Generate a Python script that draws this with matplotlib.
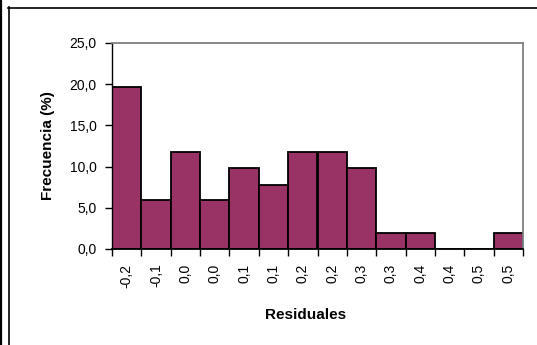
import numpy as np
import matplotlib.pyplot as plt
from matplotlib.lines import Line2D

plt.rcParams['font.family'] = ['Liberation Sans', 'DejaVu Sans']

# Residuales (etiquetas de clase) y frecuencias relativas (%)
etiquetas = ['-0,2', '-0,1', '0,0', '0,0', '0,1', '0,1', '0,2',
             '0,2', '0,3', '0,3', '0,4', '0,4', '0,5', '0,5']
frecuencia = [19.6, 5.9, 11.8, 5.9, 9.8, 7.8, 11.8,
              11.8, 9.8, 2.0, 2.0, 0.0, 0.0, 2.0]
yticks = [0, 5, 10, 15, 20, 25]

fig = plt.figure(figsize=(5.37, 3.45), dpi=100)
ax = fig.add_axes([112/537, 1 - 249/345, 411/537, 206/345])

x = np.arange(len(frecuencia))
ax.bar(x, frecuencia, width=1.0, align='edge', color='#993366',
       edgecolor='black', linewidth=1.3)

ax.set_xlim(0, len(frecuencia))
ax.set_ylim(0, 25)
ax.set_yticks(yticks)
ax.set_yticklabels([f'{v:.1f}'.replace('.', ',') for v in yticks], fontsize=10)

# ticks entre categorias, etiquetas centradas
ax.set_xticks(np.arange(len(frecuencia) + 1))
ax.set_xticklabels([])
ax.set_xticks(x + 0.5, minor=True)
ax.set_xticklabels(etiquetas, minor=True, rotation=90, fontsize=10)
ax.tick_params(axis='x', which='minor', length=0, pad=10.5)
ax.tick_params(axis='x', which='major', length=5, width=1, direction='out')
ax.tick_params(axis='y', length=5, width=1, direction='out', pad=6)

ax.spines['left'].set_linewidth(1)
ax.spines['bottom'].set_linewidth(1.3)
for s in ['top', 'right']:
    ax.spines[s].set_color('#808080')
    ax.spines[s].set_linewidth(1.3)

ax.set_ylabel('Frecuencia (%)', fontsize=11, fontweight='bold')
ax.set_xlabel('Residuales', fontsize=11, fontweight='bold')
ax.xaxis.set_label_coords((306 - 112) / 411, -(315 - 249) / 206)
ax.yaxis.set_label_coords(-(112 - 48) / 411, 0.5)
ax.xaxis.label.set_va('center')
ax.yaxis.label.set_va('center')

# marco del area del grafico
fig.add_artist(Line2D([8/537, 1], [1 - 7.5/345, 1 - 7.5/345], color='black', lw=1.2))
fig.add_artist(Line2D([8.5/537, 8.5/537], [0, 1 - 7/345], color='black', lw=1.2))
fig.add_artist(Line2D([0.8/537, 0.8/537], [0, 1], color='black', lw=1.6))

fig.savefig('out.png', dpi=100)
